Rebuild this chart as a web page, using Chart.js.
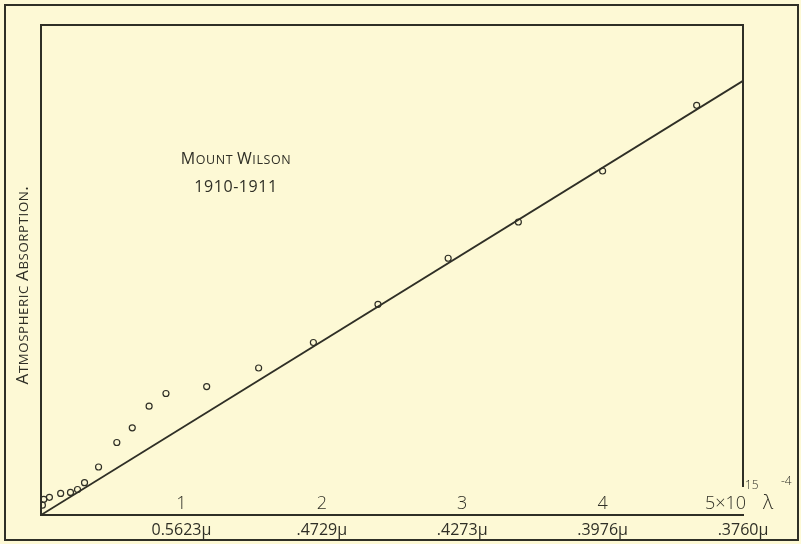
<!DOCTYPE html>
<html lang="en">
  <head>
    <meta charset="UTF-8" />
    <title>Mount Wilson 1910-1911</title>
    <script src="https://cdn.jsdelivr.net/npm/chart.js"></script>
    <style>
      body { margin: 0; background: #fdf9d5; }
      #wrap { width: 801px; height: 544px; }
    </style>
  </head>
  <body>
    <div id="wrap"><canvas id="chart" width="801" height="544"></canvas></div>
    <script>
      // observations (x in units of 10^15 λ^-4, y = atmospheric absorption, arbitrary units)
      const obsX = [0.01, 0.02, 0.06, 0.14, 0.21, 0.26, 0.31, 0.41, 0.54, 0.65, 0.77, 0.89, 1.18, 1.55, 1.94, 2.40, 2.90, 3.40, 4.00, 4.67];
      const obsY = [0.10, 0.16, 0.18, 0.22, 0.23, 0.26, 0.33, 0.49, 0.74, 0.89, 1.11, 1.24, 1.31, 1.50, 1.76, 2.15, 2.62, 2.99, 3.51, 4.18];
      // fitted straight line
      const fitX = [0, 5];
      const fitY = [0, 4.43];
      // tick labels
      const tickValues = [1, 2, 3, 4, 5];
      const scaleLabels = ['1', '2', '3', '4', '5×10'];
      const wavelengthLabels = ['0.5623μ', '.4729μ', '.4273μ', '.3976μ', '.3760μ'];
      const noteLines = ['Mount Wilson', '1910-1911'];
      const yTitle = 'Atmospheric Absorption.';

      const ink = '#2f2f26';
      const fontFam = '"Open Sans", "DejaVu Sans", sans-serif';

      // crude small caps: capitals full size, the rest as smaller capitals
      function smallCaps(ctx, text, x, y, size, align) {
        const parts = [];
        let total = 0;
        for (const ch of text) {
          const big = ch !== ch.toLowerCase() || /[0-9\-.]/.test(ch);
          const s = big ? size : size * 0.78;
          ctx.font = '400 ' + s + 'px ' + fontFam;
          const w = ctx.measureText(ch.toUpperCase()).width + 0.6;
          parts.push([ch.toUpperCase(), s, w]);
          total += w;
        }
        let cx = align === 'center' ? x - total / 2 : x;
        ctx.textAlign = 'left';
        ctx.textBaseline = 'alphabetic';
        for (const [c, s, w] of parts) {
          ctx.font = '400 ' + s + 'px ' + fontFam;
          ctx.fillText(c, cx, y);
          cx += w;
        }
      }

      const decor = {
        id: 'decor',
        beforeDraw(chart) {
          const ctx = chart.ctx;
          ctx.save();
          ctx.strokeStyle = ink;
          ctx.lineWidth = 2;
          ctx.strokeRect(5, 5, 793, 535);
          ctx.restore();
        },
        afterDraw(chart) {
          const ctx = chart.ctx;
          const { left, right, top, bottom } = chart.chartArea;
          const xs = chart.scales.x;
          ctx.save();
          ctx.strokeStyle = ink;
          ctx.lineWidth = 2;
          ctx.beginPath();
          ctx.moveTo(left, top);
          ctx.lineTo(right, top);
          ctx.lineTo(right, bottom - 28);
          ctx.stroke();

          ctx.fillStyle = ink;
          // numbers above the axis
          ctx.textBaseline = 'alphabetic';
          tickValues.forEach((v, i) => {
            const px = xs.getPixelForValue(v);
            ctx.font = '300 18px ' + fontFam;
            if (i < 4) {
              ctx.textAlign = 'center';
              ctx.fillText(scaleLabels[i], px, bottom - 6);
            } else {
              ctx.textAlign = 'right';
              ctx.fillText(scaleLabels[i], px + 3, bottom - 6);
              ctx.font = '300 12px ' + fontFam;
              ctx.textAlign = 'left';
              ctx.fillText('15', px + 2, bottom - 26);
              ctx.font = '300 20px ' + fontFam;
              ctx.fillText('λ', px + 20, bottom - 6);
              ctx.font = '300 12px ' + fontFam;
              ctx.fillText('-4', px + 38, bottom - 30);
            }
          });

          // annotation
          smallCaps(ctx, noteLines[0], 236, 164, 16, 'center');
          smallCaps(ctx, noteLines[1], 236, 192, 16, 'center');

          // y title
          ctx.translate(28, 285);
          ctx.rotate(-Math.PI / 2);
          smallCaps(ctx, yTitle, 0, 0, 17, 'center');
          ctx.restore();
        }
      };

      new Chart(document.getElementById('chart'), {
        type: 'scatter',
        data: {
          datasets: [
            {
              label: 'Observed',
              data: obsX.map((x, i) => ({ x: x, y: obsY[i] })),
              pointStyle: 'circle',
              pointRadius: 3,
              pointBorderWidth: 1.2,
              pointBorderColor: ink,
              pointBackgroundColor: 'rgba(0,0,0,0)',
              showLine: false
            },
            {
              label: 'Fit',
              data: fitX.map((x, i) => ({ x: x, y: fitY[i] })),
              showLine: true,
              borderColor: ink,
              borderWidth: 1.8,
              pointRadius: 0
            }
          ]
        },
        options: {
          responsive: false,
          animation: false,
          layout: { padding: { left: 0, top: 25, right: 58, bottom: 0 } },
          plugins: { legend: { display: false }, tooltip: { enabled: false } },
          scales: {
            x: {
              type: 'linear',
              min: 0,
              max: 5,
              afterFit(scale) { scale.height = 29; },
              afterBuildTicks(scale) { scale.ticks = tickValues.map(v => ({ value: v })); },
              grid: { display: false },
              border: { display: true, color: ink, width: 2 },
              ticks: {
                padding: -2,
                color: ink,
                font: { family: fontFam, size: 16, weight: '400' },
                callback: (v) => wavelengthLabels[tickValues.indexOf(v)] || ''
              }
            },
            y: {
              type: 'linear',
              min: 0,
              max: 5,
              afterFit(scale) { scale.width = 41; },
              grid: { display: false },
              border: { display: true, color: ink, width: 2 },
              ticks: { display: false }
            }
          }
        },
        plugins: [decor]
      });
    </script>
  </body>
</html>
